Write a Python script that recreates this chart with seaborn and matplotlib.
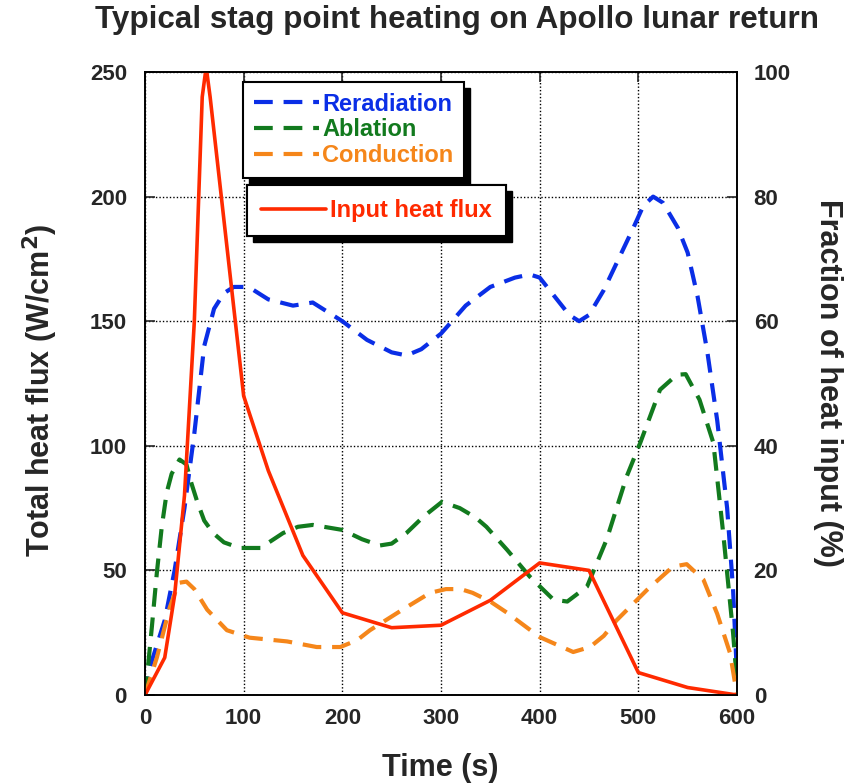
import matplotlib
matplotlib.use("Agg")
import matplotlib.pyplot as plt
import seaborn as sns
from matplotlib.lines import Line2D
from matplotlib.patches import Rectangle
from matplotlib.transforms import IdentityTransform

# input heat flux (W/cm^2), left axis
flux_time = [0, 20, 30, 40, 50, 58, 62, 66, 100, 125, 160, 200, 250, 300, 350, 400, 450, 500, 550, 600]
flux_value = [0, 15, 40, 80, 150, 240, 252, 240, 120, 90, 56, 33, 27, 28, 38, 53, 50, 9, 3, 0]

# fraction of heat input (%), right axis
rerad_time = [0, 5, 10, 20, 30, 40, 50, 60, 70, 80, 90, 100, 110, 125, 150, 170, 200, 225, 250, 265,
              280, 300, 325, 350, 375, 390, 400, 415, 430, 440, 450, 465, 480, 495, 505, 515, 525,
              540, 550, 560, 570, 580, 590, 596, 600]
rerad_value = [0, 4.5, 7, 12, 20, 30, 42, 56, 62, 64.5, 65.5, 65.5, 65, 63.5, 62.5, 63, 60, 57, 55, 54.5,
               55.5, 58, 62.5, 65.5, 67, 67.5, 67, 64, 61, 60, 61, 65, 70, 75, 78.5, 80, 79,
               75, 71, 64, 55, 44, 30, 17, 3]

ablat_time = [0, 3, 7, 12, 17, 22, 27, 35, 42, 47, 53, 60, 69, 80, 96, 117, 140, 155, 170, 200, 220,
              238, 250, 265, 282, 301, 319, 335, 346, 367, 390, 414, 428, 448, 468, 488, 502, 522,
              539, 548, 562, 576, 586, 596, 600]
ablat_value = [0, 4.5, 11, 19.6, 27, 32.5, 35.5, 37.8, 37, 34, 31, 28, 26, 24.5, 23.6, 23.6, 26, 27, 27.3,
               26.5, 25, 24, 24.3, 26, 28.6, 31, 30, 28.5, 27, 23.3, 19, 15.3, 15, 17.4, 25, 35, 40.5,
               49, 51.4, 51.5, 47.4, 40.5, 26, 10, 2]

cond_time = [0, 2, 12, 25, 34, 42, 50, 63, 83, 106, 144, 174, 198, 215, 228, 261, 289, 305, 320, 332,
             350, 367, 400, 434, 451, 465, 478, 509, 535, 549, 566, 580, 593, 600]
cond_value = [0, 1, 6, 14, 18, 18.2, 17, 13.7, 10.4, 9.2, 8.6, 7.7, 7.7, 8.8, 10.4, 13.7, 16.4, 17, 17,
              16.4, 15, 13.2, 9.3, 6.9, 7.7, 9.5, 12, 16.9, 20.6, 21, 18.5, 13, 6.7, 0]

flux_ticks = [0, 50, 100, 150, 200, 250]
frac_ticks = [0, 20, 40, 60, 80, 100]
time_ticks = [0, 100, 200, 300, 400, 500, 600]

sns.set_style("white")
plt.rcParams["font.family"] = ["Liberation Sans", "DejaVu Sans"]
plt.rcParams["font.weight"] = "bold"

BLUE = "#0a2ee6"
GREEN = "#127a1e"
ORANGE = "#f5861a"
RED = "#ff2a00"
dash = (0, (4.5, 2.6))

fig = plt.figure(figsize=(8.53, 7.84), dpi=100)
ax = fig.add_axes([145 / 853, 1 - 695 / 784, 592 / 853, 623 / 784])
ax2 = ax.twinx()

sns.lineplot(x=rerad_time, y=rerad_value, ax=ax2, color=BLUE, linestyle=dash, linewidth=3.0)
sns.lineplot(x=ablat_time, y=ablat_value, ax=ax2, color=GREEN, linestyle=dash, linewidth=3.0)
sns.lineplot(x=cond_time, y=cond_value, ax=ax2, color=ORANGE, linestyle=dash, linewidth=3.0)
sns.lineplot(x=flux_time, y=flux_value, ax=ax2, color=RED, linewidth=2.6,
             transform=ax.transData, clip_on=True)

ax.set_xlim(0, 600)
ax.set_ylim(0, 250)
ax2.set_ylim(0, 100)
ax.set_xticks(time_ticks)
ax.set_yticks(flux_ticks)
ax2.set_yticks(frac_ticks)

ax.grid(True, color="black", linestyle=(0, (1, 1.5)), linewidth=1.0)
ax.set_axisbelow(True)
for a in (ax, ax2):
    for s in a.spines.values():
        s.set_color("black")
        s.set_linewidth(1.2)

ax.tick_params(axis="both", direction="in", length=7, width=1.2, labelsize=16,
               top=True, right=False)
ax.tick_params(axis="y", pad=13)
ax.tick_params(axis="x", pad=9)
ax2.tick_params(axis="y", direction="in", length=7, width=1.2, labelsize=16, pad=12)

fig.text(440 / 853, 1 - 768 / 784, "Time (s)", ha="center", va="center",
         fontsize=22, fontweight="bold")
fig.text(40 / 853, 1 - 390 / 784, "Total heat flux (W/cm$^\\mathbf{2}$)", rotation=90,
         ha="center", va="center", fontsize=22, fontweight="bold")
fig.text(828 / 853, 1 - 383 / 784, "Fraction of heat input (%)", rotation=270,
         ha="center", va="center", fontsize=22, fontweight="bold")
fig.text(457 / 853, 1 - 20 / 784, "Typical stag point heating on Apollo lunar return",
         ha="center", va="center", fontsize=22.6, fontweight="bold")

# two legend boxes, each with a hard black drop shadow
leg1_handles = [Line2D([], [], color=c, linestyle=dash, linewidth=3.0) for c in (BLUE, GREEN, ORANGE)]
leg1_labels = ["Reradiation", "Ablation", "Conduction"]
leg2_handles = [Line2D([], [], color=RED, linewidth=2.6)]
leg2_labels = ["Input heat flux"]

opts = dict(frameon=True, fancybox=False, handletextpad=0.15, borderaxespad=0)


def add_legend(handles, labels, anchor, colors, **kw):
    lg = ax2.legend(handles, labels, loc="upper left", bbox_to_anchor=anchor, **opts, **kw)
    lg.get_frame().set_facecolor("white")
    lg.get_frame().set_edgecolor("black")
    lg.get_frame().set_linewidth(1.5)
    lg.get_frame().set_alpha(1)
    lg.set_zorder(10)
    for t, c in zip(lg.get_texts(), colors):
        t.set_color(c)
    ax2.add_artist(lg)
    return lg


lg1 = add_legend(leg1_handles, leg1_labels, ((243 - 145) / 592, (695 - 82) / 623),
                 (BLUE, GREEN, ORANGE), fontsize=17, handlelength=2.75, borderpad=0.45,
                 labelspacing=0.12)
lg2 = add_legend(leg2_handles, leg2_labels, ((247 - 145) / 592, (695 - 185) / 623),
                 (RED,), fontsize=17, handlelength=2.75, borderpad=0.6)

fig.canvas.draw()
off = 6
for lg in (lg1, lg2):
    bb = lg.get_frame().get_window_extent()
    shadow = Rectangle((bb.x0 + off, bb.y0 - off), bb.width, bb.height,
                       transform=IdentityTransform(), facecolor="black", edgecolor="black",
                       zorder=9, clip_on=False)
    ax2.add_artist(shadow)

fig.savefig("out.png", dpi=100)
plt.close(fig)
